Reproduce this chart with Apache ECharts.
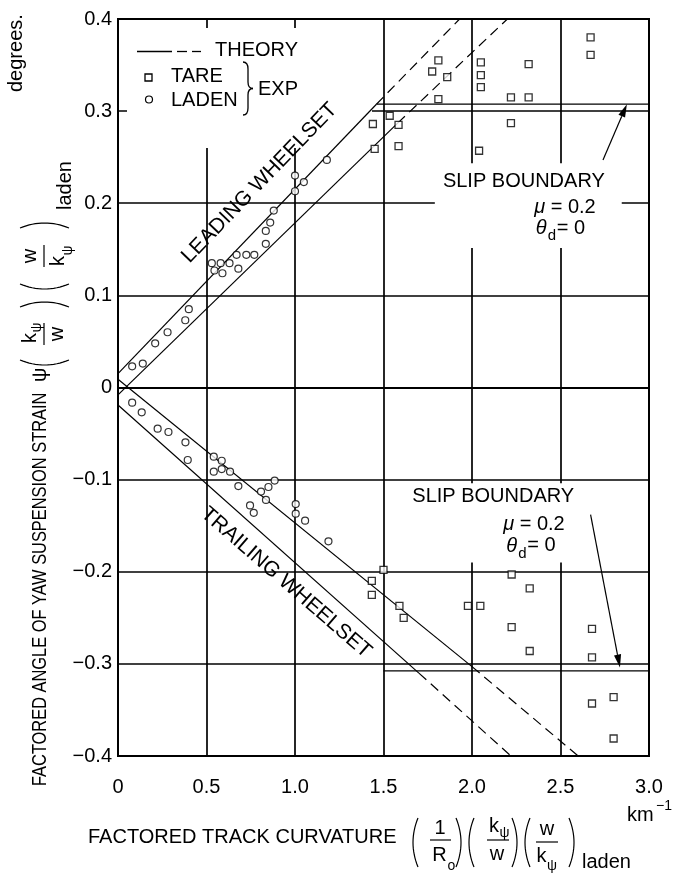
<!DOCTYPE html>
<html><head><meta charset="utf-8">
<script src="https://cdn.jsdelivr.net/npm/echarts@6/dist/echarts.min.js"></script>
<style>html,body{margin:0;padding:0;background:#fff}#c{width:673px;height:875px}</style>
</head><body><div id="c"></div>
<script>
// ---------- data ----------
const xTickLabels = ['0','0.5','1.0','1.5','2.0','2.5','3.0'];
const yTickLabels = ['\u22120.4','\u22120.3','\u22120.2','\u22120.1','0','0.1','0.2','0.3','0.4'];

const tareUpper = [[1.44,0.286],[1.45,0.259],[1.535,0.295],[1.585,0.285],[1.585,0.262],[1.775,0.343],[1.81,0.355],[1.86,0.337],[1.81,0.313],[2.05,0.353],[2.05,0.339],[2.05,0.326],[2.04,0.257],[2.22,0.315],[2.22,0.287],[2.32,0.351],[2.32,0.315],[2.67,0.38],[2.67,0.361]];
const tareLower = [[1.434,-0.210],[1.434,-0.225],[1.50,-0.198],[1.59,-0.237],[1.614,-0.250],[1.977,-0.237],[2.047,-0.237],[2.224,-0.203],[2.326,-0.218],[2.224,-0.26],[2.326,-0.286],[2.678,-0.262],[2.678,-0.293],[2.8,-0.336],[2.678,-0.343],[2.8,-0.381]];
const ladenLeading = [[0.08,0.023],[0.14,0.026],[0.21,0.048],[0.28,0.06],[0.38,0.073],[0.40,0.085],[0.53,0.135],[0.545,0.127],[0.58,0.135],[0.59,0.124],[0.63,0.135],[0.67,0.144],[0.68,0.129],[0.725,0.144],[0.77,0.144],[0.835,0.156],[0.835,0.170],[0.86,0.179],[0.88,0.192],[1.0,0.23],[1.0,0.213],[1.05,0.223],[1.18,0.247]];
const ladenTrailing = [[0.08,-0.0165],[0.134,-0.027],[0.224,-0.0447],[0.285,-0.0483],[0.381,-0.0595],[0.394,-0.0787],[0.541,-0.0751],[0.586,-0.0795],[0.541,-0.0914],[0.586,-0.0885],[0.633,-0.0914],[0.68,-0.107],[0.746,-0.128],[0.767,-0.136],[0.808,-0.113],[0.836,-0.122],[0.85,-0.108],[0.885,-0.101],[1.004,-0.1265],[1.004,-0.137],[1.057,-0.1446],[1.189,-0.167]];

const leadUpperSolid = [[0,0.015],[1.46,0.3075]];
const leadUpperDash  = [[1.46,0.3075],[1.93,0.4]];
const leadLowerSolid = [[0,-0.008],[1.58,0.287]];
const leadLowerDash  = [[1.58,0.287],[2.2,0.4]];
const trailUpperSolid = [[0,0.009],[2.0,-0.303]];
const trailUpperDash  = [[2.0,-0.303],[2.6,-0.4]];
const trailLowerSolid = [[0,-0.019],[1.7,-0.31]];
const trailLowerDash  = [[1.7,-0.31],[2.22,-0.4]];
const slipUpper = [[1.46,0.3075],[3,0.3075]];
const slipLower = [[1.5,-0.3075],[3,-0.3075]];

// ---------- chart ----------
const F = "'Liberation Sans', Arial, Helvetica, sans-serif";
const chart = echarts.init(document.getElementById('c'));

function lineSeries(data, dashed){
  return {type:'line', data, showSymbol:false, symbol:'none', silent:true, animation:false, z:3,
    lineStyle:{color:'#000', width:1.2, type: dashed ? [10,6] : 'solid'}};
}
const axisCommon = {
  axisLine:{show:true, lineStyle:{color:'#000', width:2}},
  axisTick:{show:false},
  splitLine:{show:true, lineStyle:{color:'#000', width:1.7}},
};

chart.setOption({
  animation:false,
  backgroundColor:'#fff',
  grid:{left:118, top:19, width:531, height:737, show:true, borderColor:'#000', borderWidth:2, backgroundColor:'transparent'},
  xAxis:Object.assign({type:'value', min:0, max:3, interval:0.5,
    axisLabel:{color:'#000', fontSize:20, fontFamily:F, margin:21, showMinLabel:true, showMaxLabel:true,
      formatter:v=>xTickLabels[Math.round(v/0.5)]}}, axisCommon),
  yAxis:Object.assign({type:'value', min:-0.4, max:0.4, interval:0.1,
    axisLabel:{color:'#000', fontSize:20, fontFamily:F, margin:6, showMinLabel:true, showMaxLabel:true,
      formatter:v=>yTickLabels[Math.round((v+0.4)/0.1)]}}, axisCommon),
  series:[
    lineSeries(leadUpperSolid), lineSeries(leadUpperDash,true),
    lineSeries(leadLowerSolid), lineSeries(leadLowerDash,true),
    lineSeries(trailUpperSolid), lineSeries(trailUpperDash,true),
    lineSeries(trailLowerSolid), lineSeries(trailLowerDash,true),
    lineSeries(slipUpper), lineSeries(slipLower),
    {name:'TARE', type:'scatter', data:tareUpper.concat(tareLower), symbol:'rect', symbolSize:7, z:4, silent:true,
      itemStyle:{color:'#fff', borderColor:'#000', borderWidth:1.3}},
    {name:'LADEN', type:'scatter', data:ladenLeading.concat(ladenTrailing), symbol:'circle', symbolSize:7, z:4, silent:true,
      itemStyle:{color:'#fff', borderColor:'#000', borderWidth:1.2}}
  ]
});

// ---------- annotations ----------
const P = (x,y)=>chart.convertToPixel({gridIndex:0},[x,y]);
function txt(x,y,text,o){
  o=o||{};
  return {type:'text', x, y, rotation:o.rot||0, scaleX:o.sx||1, z:o.z||6, silent:true,
    style:Object.assign({text, fill:'#000', fontSize:o.fs||20, fontFamily:F, fontStyle:o.it?'italic':'normal',
      textAlign:o.align||'left', align:o.align||'left', textVerticalAlign:'middle', verticalAlign:'middle'}, o.style||{})};
}
function seg(x1,y1,x2,y2,w,dash){
  return {type:'line', z:6, silent:true, shape:{x1,y1,x2,y2}, style:{stroke:'#000', lineWidth:w||1.2, lineDash:dash||null}};
}
function quad(x1,y1,cx,cy,x2,y2){
  return {type:'bezierCurve', z:6, silent:true, shape:{x1,y1,x2,y2,cpx1:cx,cpy1:cy}, style:{stroke:'#000', lineWidth:1.3, fill:null}};
}
function paren(x0, yc, h, dir){ // dir -1 '(' , +1 ')'
  const pts=[]; const b=5;
  for(let i=0;i<=16;i++){const t=-1+i/8; pts.push([dir<0? x0+b*t*t : x0-b*t*t, yc+t*h/2]);}
  return {type:'polyline', z:6, silent:true, shape:{points:pts}, style:{stroke:'#000', lineWidth:1.2, fill:null}};
}
function rect(x,y,w,h){ return {type:'rect', z:1, silent:true, shape:{x,y,width:w,height:h}, style:{fill:'#fff'}}; }
function arrow(x1,y1,x2,y2){
  const a=Math.atan2(y2-y1,x2-x1), L=13, W=3.6;
  const bx=x2-L*Math.cos(a), by=y2-L*Math.sin(a);
  return [seg(x1,y1,bx,by,1.2),
    {type:'polygon', z:6, silent:true, shape:{points:[[x2,y2],[bx+W*Math.sin(a),by-W*Math.cos(a)],[bx-W*Math.sin(a),by+W*Math.cos(a)]]}, style:{fill:'#000'}}];
}

function build(){
  const g=[];
  // white masks
  g.push(rect(127,28,245,120));
  const u0=P(1.79,0.2435), u1=P(2.846,0.1515);
  g.push(rect(u0[0],u0[1],u1[0]-u0[0],u1[1]-u0[1]));
  const l0=P(1.63,-0.104), l1=P(2.72,-0.19);
  g.push(rect(l0[0],l0[1],l1[0]-l0[0],l1[1]-l0[1]));

  // legend
  g.push(seg(137,51.5,172,51.5,1.3));
  g.push(seg(177,51.5,187,51.5,1.3)); g.push(seg(192,51.5,201,51.5,1.3));
  g.push(txt(215,50,'THEORY'));
  g.push({type:'rect', z:6, silent:true, shape:{x:145,y:74,width:7,height:7}, style:{fill:'#fff',stroke:'#000',lineWidth:1.3}});
  g.push(txt(171,76,'TARE'));
  g.push({type:'circle', z:6, silent:true, shape:{cx:149,cy:99.5,r:3.5}, style:{fill:'#fff',stroke:'#000',lineWidth:1.2}});
  g.push(txt(171,100,'LADEN'));
  g.push(quad(243,62,248,62,248,69)); g.push(seg(248,69,248,82,1.3)); g.push(quad(248,82,248,88.5,253,88.5));
  g.push(quad(253,88.5,248,88.5,248,95)); g.push(seg(248,95,248,108,1.3)); g.push(quad(248,108,248,115,243,115));
  g.push(txt(258,89,'EXP'));

  // wheelset labels
  let p=P(0.80,0.222); g.push(txt(p[0],p[1],'LEADING WHEELSET',{align:'center',rot:46*Math.PI/180,fs:21}));
  p=P(0.95,-0.212); g.push(txt(p[0],p[1],'TRAILING WHEELSET',{align:'center',rot:-41*Math.PI/180,fs:21}));

  // slip boundary upper
  const rich={i:{fontStyle:'italic',fontSize:20,fontFamily:F}};
  p=P(2.293,0.224); g.push(txt(p[0],p[1],'SLIP BOUNDARY',{align:'center'}));
  p=P(2.525,0.195); g.push(txt(p[0],p[1],'{i|\u03bc} = 0.2',{align:'center',style:{rich}}));
  p=P(2.36,0.173); g.push(txt(p[0],p[1],'\u03b8',{it:true})); g.push(txt(p[0]+12,p[1]+8,'d',{fs:15})); g.push(txt(p[0]+21,p[1],'= 0'));
  g.push(...arrow(...P(2.74,0.247), ...P(2.875,0.3075)));
  // slip boundary lower
  p=P(2.12,-0.118); g.push(txt(p[0],p[1],'SLIP BOUNDARY',{align:'center'}));
  p=P(2.35,-0.149); g.push(txt(p[0],p[1],'{i|\u03bc} = 0.2',{align:'center',style:{rich}}));
  p=P(2.193,-0.172); g.push(txt(p[0],p[1],'\u03b8',{it:true})); g.push(txt(p[0]+12,p[1]+8,'d',{fs:15})); g.push(txt(p[0]+21,p[1],'= 0'));
  g.push(...arrow(...P(2.67,-0.138), ...P(2.836,-0.304)));

  // x axis title
  g.push(txt(88,837,'FACTORED TRACK CURVATURE'));
  g.push(paren(413,842.5,49,-1)); g.push(paren(461,842.5,49,1));
  g.push(seg(430,840,451,840,1.2)); g.push(txt(440,828,'1',{align:'center'}));
  g.push(txt(439.5,855,'R',{align:'center'})); g.push(txt(451.5,866,'o',{align:'center',fs:14}));
  g.push(paren(469,842.5,49,-1)); g.push(paren(517,842.5,49,1));
  g.push(seg(487,840,509,840,1.2)); g.push(txt(494,826,'k',{align:'center'})); g.push(txt(504.5,833,'\u03c8',{align:'center',fs:14}));
  g.push(txt(497,854,'w',{align:'center'}));
  g.push(paren(525,842.5,49,-1)); g.push(paren(574,842.5,49,1));
  g.push(seg(536,842,558,842,1.2)); g.push(txt(547,829,'w',{align:'center'}));
  g.push(txt(541.5,856,'k',{align:'center'})); g.push(txt(552,866,'\u03c8',{align:'center',fs:14}));
  g.push(txt(582,862,'laden'));
  g.push(txt(627,815,'km')); g.push(txt(656,806,'\u22121',{fs:14}));

  // y axis title (rotated group, local x runs upward from screen y=786)
  const ch=[];
  ch.push(txt(0,0,'FACTORED ANGLE OF YAW SUSPENSION STRAIN',{sx:0.82}));
  ch.push(txt(404,0,'\u03c8'));
  // frac 1 (k psi / w)
  ch.push(paren(421,4.5,49,-1)); ch.push(paren(484,4.5,49,1));
  ch.push(seg(441,4,463,4,1.2)); ch.push(txt(448,-10,'k',{align:'center'})); ch.push(txt(458.5,-3,'\u03c8',{align:'center',fs:14}));
  ch.push(txt(452,17,'w',{align:'center'}));
  // frac 2 (w / k psi)
  ch.push(paren(497,4.5,49,-1)); ch.push(paren(563,4.5,49,1));
  ch.push(seg(519,4,541,4,1.2)); ch.push(txt(530,-10,'w',{align:'center'}));
  ch.push(txt(525,18,'k',{align:'center'})); ch.push(txt(535.5,28,'\u03c8',{align:'center',fs:14}));
  ch.push(txt(576,25,'laden'));
  ch.push(txt(694,-24,'degrees.'));
  g.push({type:'group', x:40, y:786, rotation:Math.PI/2, children:ch});

  chart.setOption({graphic:{elements:g}});
}
build();
</script></body></html>
